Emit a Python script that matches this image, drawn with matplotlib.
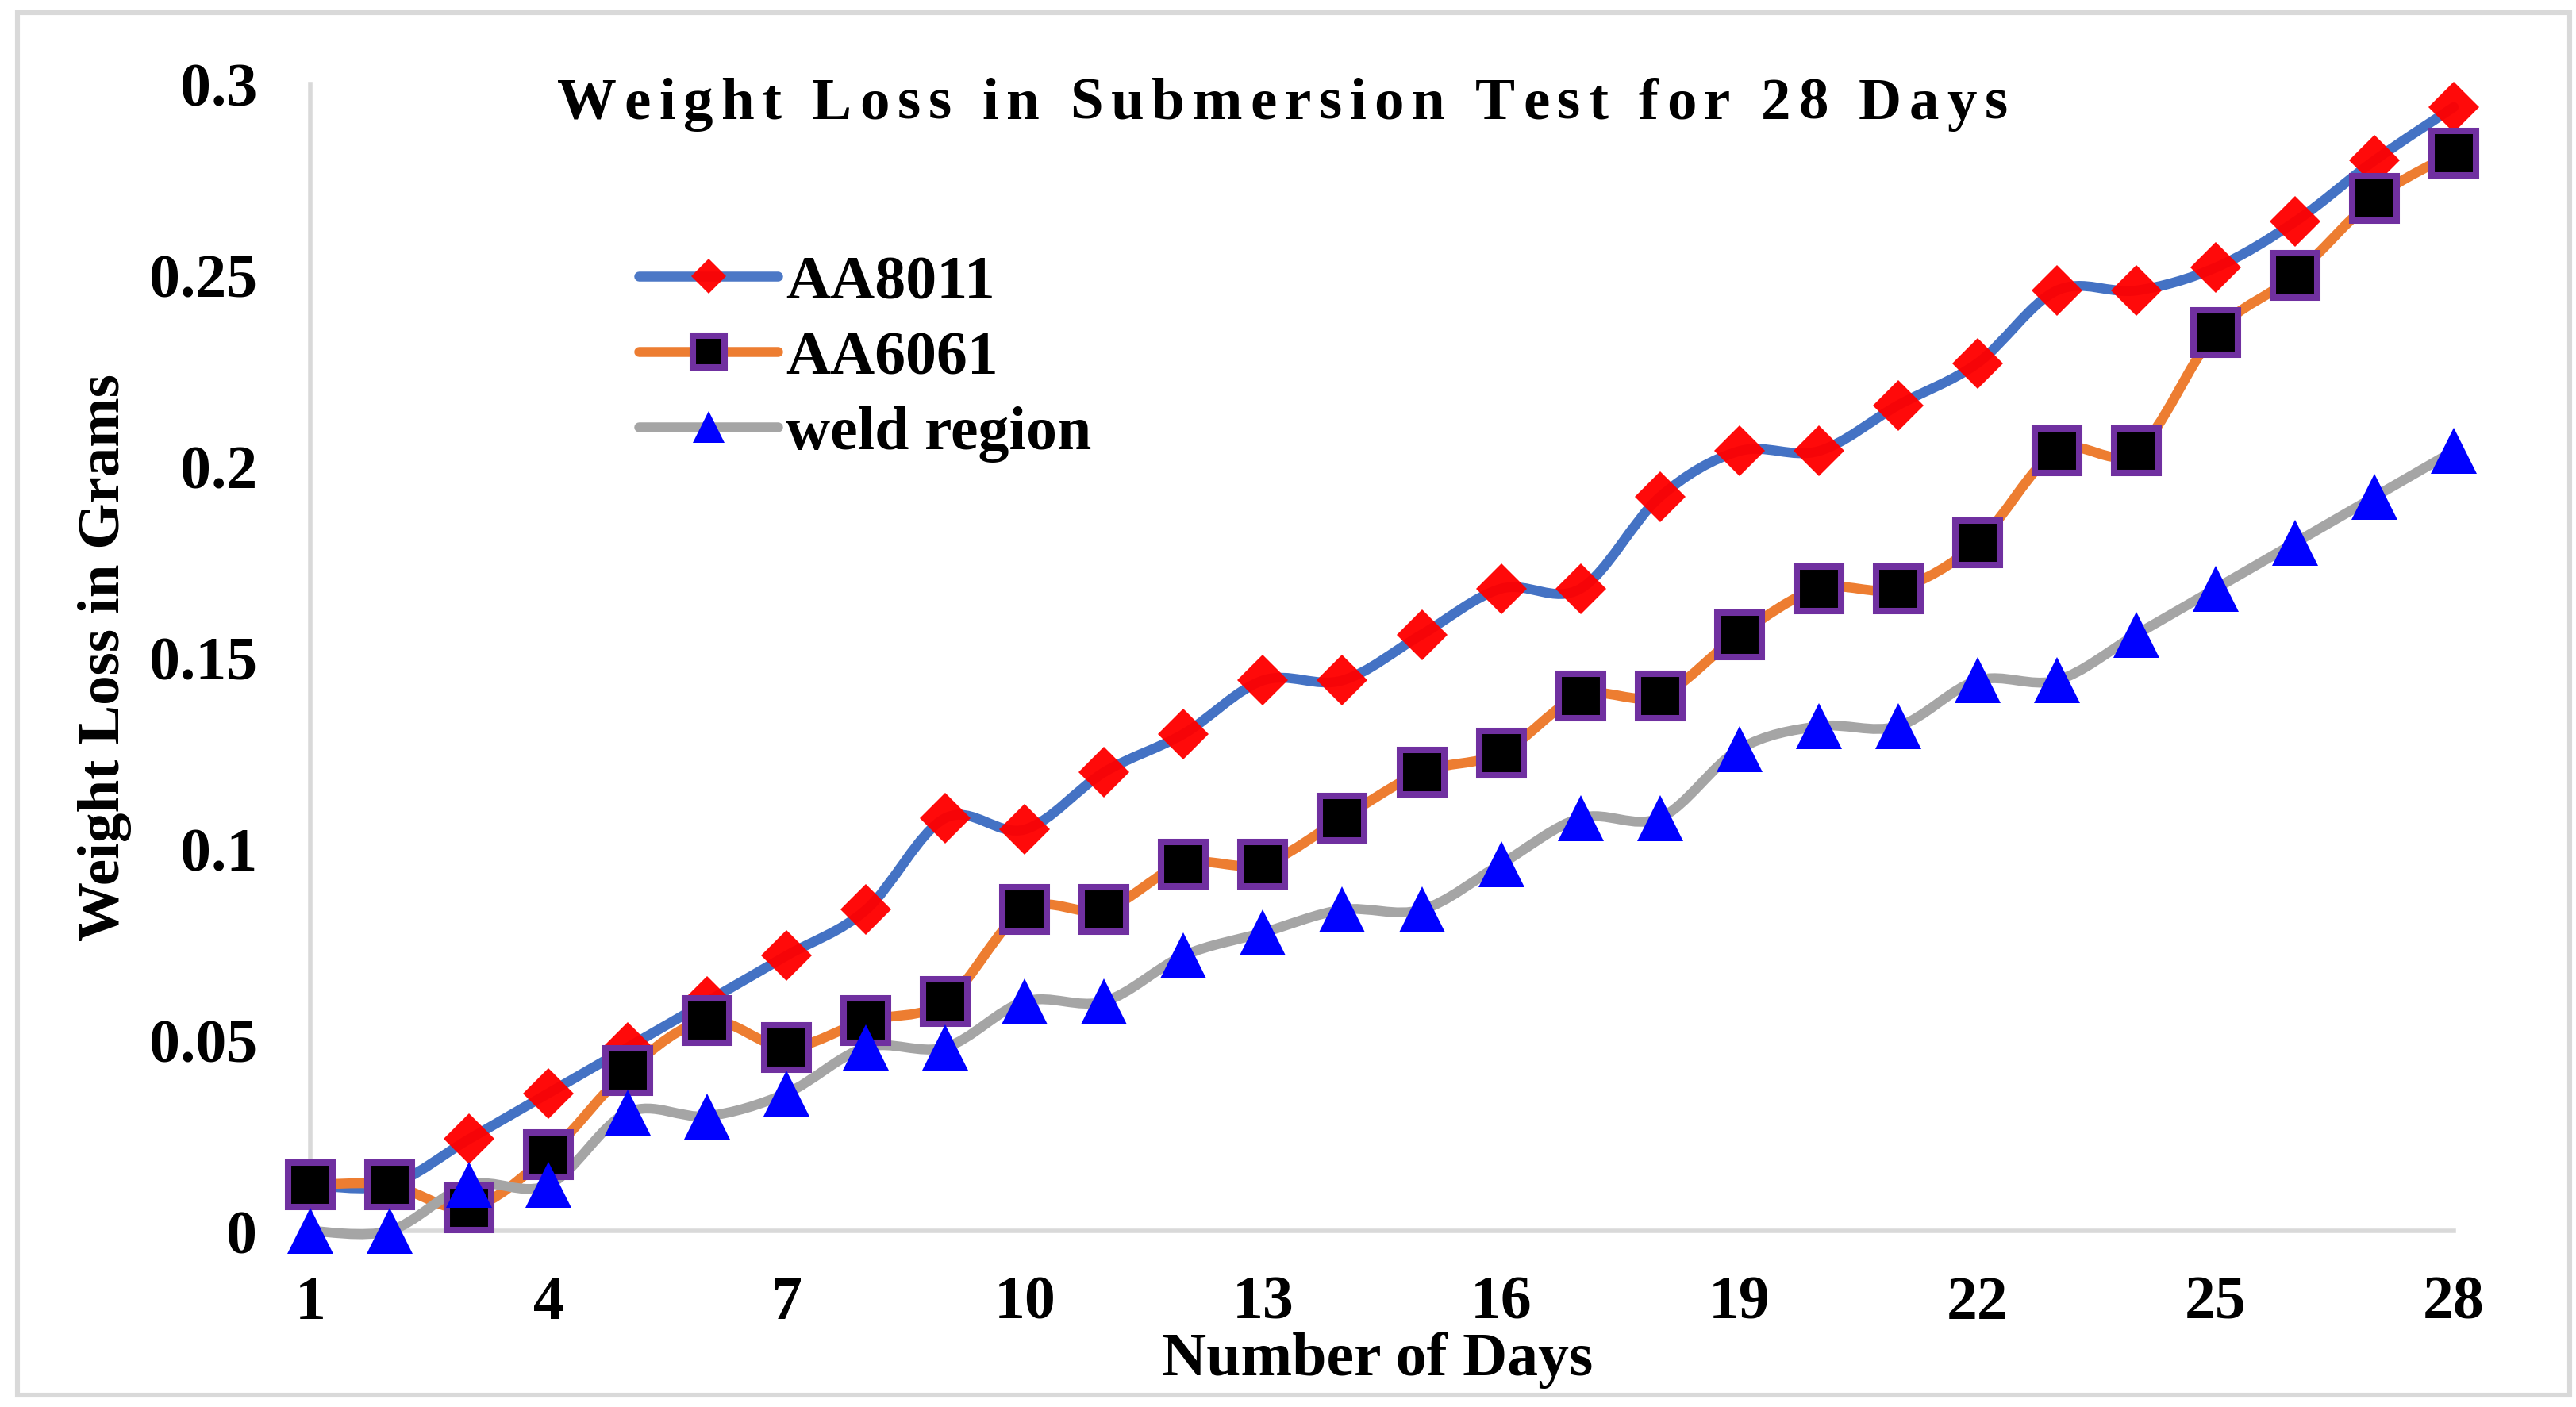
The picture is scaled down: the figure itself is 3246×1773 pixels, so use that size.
import numpy as np
import matplotlib
matplotlib.use('Agg')
import matplotlib.pyplot as plt
from matplotlib.path import Path
from matplotlib.patches import PathPatch, Rectangle
from matplotlib.lines import Line2D

# ---------------- data ----------------
days = list(range(1, 29))
aa8011 = [0.012, 0.012, 0.024, 0.036, 0.048, 0.060, 0.072, 0.084, 0.108, 0.105,
          0.120, 0.130, 0.144, 0.144, 0.156, 0.168, 0.168, 0.192, 0.204, 0.204,
          0.216, 0.227, 0.246, 0.246, 0.252, 0.264, 0.280, 0.294]
aa6061 = [0.012, 0.012, 0.006, 0.020, 0.042, 0.055, 0.048, 0.055, 0.060, 0.084,
          0.084, 0.096, 0.096, 0.108, 0.120, 0.125, 0.140, 0.140, 0.156, 0.168,
          0.168, 0.180, 0.204, 0.204, 0.235, 0.250, 0.270, 0.282]
weld = [0.000, 0.000, 0.012, 0.012, 0.031, 0.030, 0.036, 0.048, 0.048, 0.060,
        0.060, 0.072, 0.078, 0.084, 0.084, 0.096, 0.108, 0.108, 0.126, 0.132,
        0.132, 0.144, 0.144, 0.156, 0.168, 0.180, 0.192, 0.204]
series_names = ["AA8011", "AA6061", "weld region"]
x_ticks = [1, 4, 7, 10, 13, 16, 19, 22, 25, 28]
y_ticks = [0, 0.05, 0.1, 0.15, 0.2, 0.25, 0.3]
y_tick_labels = ["0", "0.05", "0.1", "0.15", "0.2", "0.25", "0.3"]
title = "Weight Loss in Submersion Test for 28 Days"
xlabel = "Number of Days"
ylabel = "Weight Loss in Grams"

# ---------------- figure ----------------
W, H, DPI = 3246, 1774, 200
plt.rcParams['font.family'] = ['Liberation Serif', 'DejaVu Serif']
plt.rcParams['font.weight'] = 'bold'

def fx(px):
    return px / W

def fy(py):
    return 1 - py / H

fig = plt.figure(figsize=(W / DPI, H / DPI), dpi=DPI, facecolor='white')
ax = fig.add_axes([fx(391), fy(1552), (3092 - 391) / W, (1552 - 107) / H])
ax.set_xlim(1, 28)
ax.set_ylim(0, 0.3)
ax.set_facecolor('white')

for s in ['top', 'right']:
    ax.spines[s].set_visible(False)
for s in ['left', 'bottom']:
    ax.spines[s].set_color('#D9D9D9')
    ax.spines[s].set_linewidth(2.0)
    ax.spines[s].set_zorder(1)

ax.set_xticks(x_ticks)
ax.set_xticklabels([str(t) for t in x_ticks])
ax.set_yticks(y_ticks)
ax.set_yticklabels(y_tick_labels)
ax.tick_params(axis='both', length=0, labelsize=28)
ax.tick_params(axis='y', pad=24)
ax.tick_params(axis='x', pad=20)


def smooth_path(x, y):
    x = np.asarray(x, float)
    y = np.asarray(y, float)
    n = len(x)
    verts = [(x[0], y[0])]
    codes = [Path.MOVETO]
    for i in range(n - 1):
        i0 = max(i - 1, 0)
        i3 = min(i + 2, n - 1)
        c1 = (x[i] + (x[i + 1] - x[i0]) / 6, y[i] + (y[i + 1] - y[i0]) / 6)
        c2 = (x[i + 1] - (x[i3] - x[i]) / 6, y[i + 1] - (y[i3] - y[i]) / 6)
        verts += [c1, c2, (x[i + 1], y[i + 1])]
        codes += [Path.CURVE4] * 3
    return Path(verts, codes)


line_colors = ['#4472C4', '#ED7D31', '#A5A5A5']
marker_styles = [
    dict(marker='D', markersize=16.3, markerfacecolor='#FF0000', markeredgewidth=0, alpha=0.96),
    dict(marker='s', markersize=20.5, markerfacecolor='black', markeredgecolor='#7030A0', markeredgewidth=2.9),
    dict(marker='^', markersize=21, markerfacecolor='#0000FF', markeredgewidth=0),
]
all_series = [aa8011, aa6061, weld]
LW = 4.5

for k, vals in enumerate(all_series):
    p = PathPatch(smooth_path(days, vals), fill=False, edgecolor=line_colors[k], lw=LW,
                  capstyle='round', joinstyle='round', zorder=2 + 0.1 * k, clip_on=False)
    ax.add_patch(p)
for k, vals in enumerate(all_series):
    ms = dict(marker_styles[k])
    ax.plot(days, vals, linestyle='none', clip_on=False, zorder=3 + 0.1 * k, **ms)

handles = []
for k in range(3):
    ms = dict(marker_styles[k])
    handles.append(Line2D([], [], color=line_colors[k], lw=LW, solid_capstyle='round', **ms))
leg = ax.legend(handles, series_names, loc='upper left', bbox_to_anchor=(fx(805), fy(322)),
                bbox_transform=fig.transFigure, frameon=False, fontsize=28,
                handlelength=2.25, handletextpad=0.13, labelspacing=0.3,
                borderpad=0, borderaxespad=0, markerscale=0.7)

# axis labels
fig.text(fx(132), fy(828), ylabel, rotation=90, ha='center', va='center', fontsize=27)
fig.text(fx(1736), fy(1733), xlabel, ha='center', va='baseline', fontsize=28)

# title with expanded letter spacing
r = fig.canvas.get_renderer()
TFS = 27

def text_width(s):
    t = fig.text(0, 0, s, fontsize=TFS)
    w = t.get_window_extent(renderer=r).width
    t.remove()
    return w

base = text_width("xx")
adv = [text_width("x" + ch + "x") - base for ch in title]
x0, x1 = 702, 2530
natural = sum(adv[:-1]) + text_width(title[-1])
gap = (x1 - x0 - natural) / (len(title) - 1)
xp = x0
for ch, a in zip(title, adv):
    if ch != ' ':
        fig.text(fx(xp), fy(150), ch, ha='left', va='baseline', fontsize=TFS)
    xp += a + gap

# outer border
fig.patches.append(Rectangle((fx(22), fy(1759)), (3238 - 22) / W, (1759 - 17) / H,
                             transform=fig.transFigure, fill=False, edgecolor='#D9D9D9',
                             lw=2.2, zorder=0))

fig.savefig('out.png', dpi=DPI, facecolor='white')
